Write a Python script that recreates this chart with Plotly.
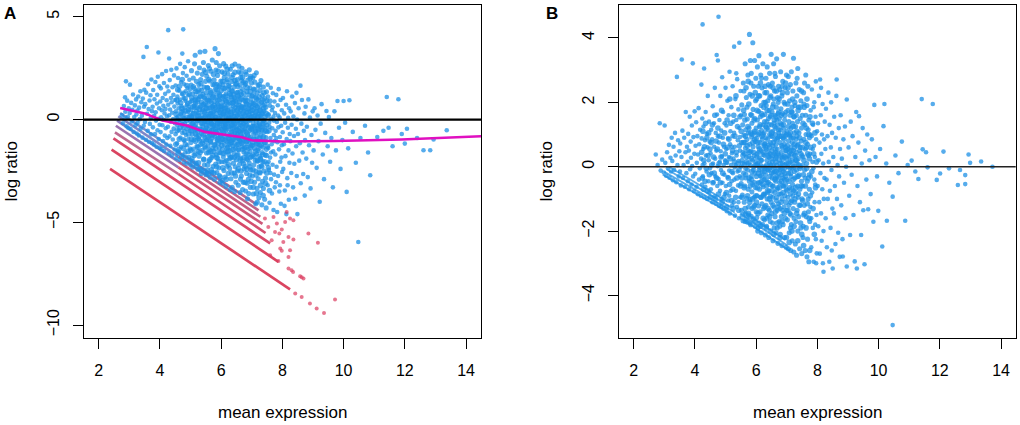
import plotly.graph_objects as go

# ---------------- Panel A data (mean expression, log ratio) ----------------
a_left = [
(2.76,0.21),(2.79,-0.18),(2.82,0.66),(2.84,0.05),(2.87,0.38),(2.89,1.86),(2.91,-0.33),(2.93,0.92),(2.95,0.14),(2.97,-0.41),(2.98,0.55),(2.86,1.08),
(3.01,0.32),(3.02,1.7),(3.04,-0.46),(3.06,0.81),(3.08,-0.09),(3.1,0.47),(3.12,1.22),(3.14,-0.6),(3.16,0.12),(3.18,0.69),(3.2,-0.28),(3.22,0.98),(3.23,0.25),(3.24,-0.68),
(3.26,0.44),(3.27,-0.15),(3.29,1.12),(3.31,-0.77),(3.32,0.58),(3.34,0.02),(3.36,1.38),(3.37,-0.45),(3.39,0.84),(3.41,0.19),(3.43,-0.88),(3.44,1.02),(3.46,3.05),(3.47,-0.3),(3.48,0.62),(3.49,1.45),
(3.51,-0.12),(3.52,0.75),(3.54,-0.98),(3.55,1.31),(3.57,3.53),(3.58,0.28),(3.6,-0.55),(3.61,1.72),(3.63,0.51),(3.64,-1.08),(3.66,0.93),(3.67,-0.21),(3.69,1.18),(3.7,0.07),(3.71,-0.72),(3.72,1.95),(3.74,0.41),(3.74,-1.14),
(3.76,0.62),(3.77,-0.38),(3.78,1.44),(3.8,-1.21),(3.81,0.18),(3.82,0.99),(3.84,-0.7),(3.85,1.83),(3.86,0.35),(3.87,-0.05),(3.89,-1.32),(3.9,0.78),(3.91,1.21),(3.92,-0.52),(3.93,2.08),(3.95,3.26),(3.95,0.04),(3.96,-0.95),(3.97,0.55),(3.98,1.62),(3.99,-0.25),(3.99,-1.38),
(4.01,0.88),(4.02,-0.61),(4.03,1.52),(4.04,0.11),(4.05,-1.44),(4.06,0.45),(4.07,2.21),(4.08,-0.28),(4.09,1.05),(4.1,-1.05),(4.11,0.67),(4.12,-0.01),(4.13,1.78),(4.14,-1.53),(4.15,0.3),(4.16,-0.78),(4.17,1.25),(4.18,0.52),(4.19,-0.42),(4.2,2.36),(4.21,-1.22),(4.22,0.94),(4.23,0.16),(4.24,-0.9),(4.24,1.61),
(4.26,-0.35),(4.27,4.35),(4.27,0.72),(4.28,1.38),(4.29,-1.64),(4.3,2.97),(4.3,0.21),(4.31,-0.82),(4.32,1.92),(4.33,0.49),(4.34,-1.28),(4.35,-0.11),(4.36,1.05),(4.37,2.42),(4.38,-0.6),(4.38,0.84),(4.39,-1.75),(4.4,0.33),(4.41,1.57),(4.42,-0.97),(4.43,0.02),(4.44,1.21),(4.45,-0.44),(4.46,2.15),(4.47,0.63),(4.48,-1.46),(4.49,-0.18),(4.49,0.95),
(4.51,1.66),(4.51,-0.71),(4.52,0.4),(4.53,-1.88),(4.54,2.49),(4.55,0.09),(4.56,-1.16),(4.57,1.12),(4.57,-0.3),(4.58,0.78),(4.59,2.02),(4.6,-1.55),(4.61,0.55),(4.62,-0.52),(4.63,1.41),(4.64,-0.02),(4.65,-1.97),(4.65,0.97),(4.66,2.71),(4.67,-0.88),(4.68,0.26),(4.69,1.83),(4.69,-1.33),(4.7,0.66),(4.71,-0.15),(4.72,1.24),(4.73,3.21),(4.73,-0.65),(4.74,0.44),(4.74,-1.72),(4.75,2.26),(4.75,0.12),
(4.76,4.39),(4.76,-0.42),(4.77,1.05),(4.78,-2.09),(4.78,0.31),(4.79,1.72),(4.8,-1.02),(4.81,0.58),(4.81,2.55),(4.82,-0.18),(4.83,-1.6),(4.84,0.9),(4.84,1.38),(4.85,-0.75),(4.86,0.14),(4.87,2.13),(4.87,-2.15),(4.88,0.72),(4.89,-1.25),(4.9,1.55),(4.9,-0.33),(4.91,0.38),(4.92,2.84),(4.93,-0.95),(4.93,1.18),(4.94,0.01),(4.95,-1.82),(4.95,0.63),(4.96,1.94),(4.97,-0.55),(4.97,0.22),(4.98,-1.41),(4.98,1.47),(4.99,-0.08),(4.99,0.85),(5.0,-2.22),
]
a_core = [
(5.01,0.47),(5.01,-1.12),(5.02,1.68),(5.03,-0.37),(5.03,2.38),(5.04,0.1),(5.05,-1.88),(5.05,0.93),(5.06,-0.7),(5.07,1.25),(5.07,-2.31),(5.08,0.29),(5.09,-1.44),(5.09,2.02),(5.1,-0.14),(5.11,0.68),(5.11,-0.98),(5.12,1.51),(5.13,-0.5),(5.13,2.71),(5.14,0.05),(5.15,3.13),(5.15,-1.67),(5.16,0.82),(5.17,-0.25),(5.17,1.08),(5.18,-2.12),(5.19,0.4),(5.19,1.86),(5.2,-0.83),(5.21,0.17),(5.21,-1.3),(5.22,2.26),(5.22,0.59),(5.23,-0.6),(5.23,1.34),(5.24,-2.42),(5.24,-0.04),(5.25,0.98),(5.25,-1.55),
(5.26,0.33),(5.26,-0.92),(5.27,1.71),(5.28,-1.78),(5.28,0.02),(5.29,2.52),(5.3,-0.45),(5.3,1.1),(5.31,3.29),(5.31,-2.38),(5.32,0.62),(5.33,-1.21),(5.33,1.95),(5.34,-0.18),(5.35,0.85),(5.35,-2.62),(5.36,1.42),(5.36,-0.68),(5.37,0.19),(5.38,2.2),(5.38,-1.5),(5.39,0.48),(5.4,-0.33),(5.4,1.23),(5.41,-1.03),(5.42,2.78),(5.42,0.07),(5.43,-1.92),(5.43,0.74),(5.44,1.58),(5.45,-0.55),(5.45,-2.21),(5.46,0.36),(5.46,1.04),(5.47,3.32),(5.47,-0.85),(5.48,0.15),(5.48,-1.38),(5.49,1.86),(5.49,-0.1),(5.5,0.58),(5.5,-2.68),(5.29,-1.01),(5.44,2.41),
(5.51,-0.4),(5.51,1.32),(5.52,-1.63),(5.52,0.24),(5.53,2.11),(5.54,-0.97),(5.54,0.7),(5.55,-2.45),(5.55,-0.12),(5.56,1.55),(5.57,-1.29),(5.57,0.43),(5.58,2.63),(5.58,-0.63),(5.59,0.95),(5.6,-2.02),(5.6,-0.27),(5.61,1.18),(5.61,0.08),(5.62,-1.48),(5.63,1.88),(5.63,-0.78),(5.64,0.56),(5.64,-2.81),(5.65,-0.05),(5.65,1.41),(5.66,-1.12),(5.67,0.31),(5.67,2.35),(5.68,-0.52),(5.68,0.82),(5.69,-1.85),(5.69,-0.2),(5.7,1.05),(5.7,-0.91),(5.71,0.19),(5.71,2.9),(5.72,-1.39),(5.72,0.63),(5.73,-0.35),(5.73,1.7),(5.74,-2.27),(5.74,0.02),(5.75,-0.7),(5.75,1.25),(5.53,-2.6),(5.62,2.48),(5.7,-2.55),
(5.76,0.41),(5.76,-1.55),(5.77,-0.28),(5.77,1.93),(5.78,0.88),(5.78,-2.9),(5.79,-0.81),(5.79,0.13),(5.8,3.45),(5.8,-1.2),(5.81,1.47),(5.81,-0.46),(5.82,0.6),(5.82,-2.16),(5.83,2.41),(5.83,-0.02),(5.84,-1.71),(5.84,1.08),(5.85,-0.66),(5.85,0.29),(5.86,-2.58),(5.86,1.72),(5.87,-0.14),(5.87,-1.03),(5.88,0.77),(5.88,2.15),(5.89,-0.39),(5.89,-1.89),(5.9,0.45),(5.9,1.3),(5.91,3.21),(5.91,-0.9),(5.92,0.06),(5.92,-2.35),(5.93,1.59),(5.93,-0.55),(5.94,0.95),(5.94,-1.37),(5.95,-0.2),(5.95,2.62),(5.96,0.34),(5.96,-3.05),(5.97,-0.74),(5.97,1.16),(5.98,-1.62),(5.98,0.62),(5.99,-0.09),(5.99,1.88),(6.0,-1.08),(6.0,0.22),(5.84,2.78),(5.94,-2.72),
(6.01,-0.47),(6.01,1.41),(6.02,-2.05),(6.02,0.51),(6.03,-0.97),(6.03,2.32),(6.04,0.03),(6.04,-1.44),(6.05,0.86),(6.05,-3.1),(6.06,-0.31),(6.06,1.7),(6.07,-1.81),(6.07,0.27),(6.08,-0.64),(6.08,1.12),(6.09,-2.48),(6.09,0.68),(6.1,-0.12),(6.1,2.05),(6.11,-1.22),(6.11,0.41),(6.12,-0.82),(6.12,1.53),(6.13,-2.8),(6.13,-0.25),(6.14,0.92),(6.14,-1.58),(6.15,0.14),(6.15,2.6),(6.16,-0.5),(6.16,1.25),(6.17,-1.99),(6.17,0.57),(6.18,-1.05),(6.18,-0.03),(6.19,1.84),(6.19,-2.27),(6.2,0.33),(6.2,-0.71),(6.21,1.0),(6.21,-1.35),(6.22,-0.18),(6.22,2.21),(6.23,0.75),(6.23,-2.62),(6.24,-0.93),(6.24,0.09),(6.25,1.46),(6.25,-1.7),(6.03,-2.95),(6.08,2.72),(6.16,-3.25),(6.2,1.95),(6.12,-0.42),
(6.26,0.38),(6.26,-1.17),(6.27,-0.35),(6.27,1.62),(6.28,-2.38),(6.28,0.81),(6.29,-0.78),(6.29,0.1),(6.3,2.45),(6.3,-1.5),(6.31,-0.08),(6.31,1.19),(6.32,-2.88),(6.32,0.52),(6.33,-1.02),(6.33,-0.3),(6.34,1.85),(6.34,0.23),(6.35,-1.82),(6.35,-0.58),(6.36,0.96),(6.36,-3.3),(6.37,0.01),(6.37,1.38),(6.38,-1.28),(6.38,-0.44),(6.39,0.67),(6.39,2.18),(6.4,-2.12),(6.4,-0.15),(6.41,0.44),(6.41,-0.95),(6.42,1.58),(6.42,-1.63),(6.43,0.17),(6.43,-2.6),(6.44,-0.66),(6.44,1.07),(6.45,2.7),(6.45,-0.22),(6.46,0.59),(6.46,-1.4),(6.47,-0.88),(6.47,1.73),(6.48,0.04),(6.48,-3.05),(6.49,-0.5),(6.49,0.89),(6.5,-1.95),(6.5,1.3),(6.3,-3.4),(6.36,2.62),(6.44,-3.5),(6.27,-1.92),(6.33,1.1),(6.4,0.85),(6.46,-2.3),(6.38,-0.98),
(6.51,-0.32),(6.51,0.72),(6.52,-1.22),(6.52,1.95),(6.53,-2.5),(6.53,0.21),(6.54,-0.71),(6.54,1.33),(6.55,-1.7),(6.55,-0.05),(6.56,0.55),(6.56,-3.2),(6.57,2.32),(6.57,-0.94),(6.58,0.35),(6.58,-1.48),(6.59,1.1),(6.59,-0.4),(6.6,-2.18),(6.6,0.88),(6.61,-0.15),(6.61,1.68),(6.62,-1.05),(6.62,-3.55),(6.63,0.48),(6.63,-0.62),(6.64,2.05),(6.64,-1.87),(6.65,0.12),(6.65,-0.28),(6.66,1.22),(6.66,-2.75),(6.67,-0.85),(6.67,0.66),(6.68,-1.32),(6.68,2.5),(6.69,0.02),(6.69,-0.52),(6.7,1.48),(6.7,-2.02),(6.71,0.3),(6.71,-1.1),(6.72,-3.05),(6.72,0.95),(6.73,-0.2),(6.73,1.82),(6.74,-1.58),(6.74,0.42),(6.75,-0.78),(6.75,-2.4),(6.58,2.6),(6.63,-2.9),(6.7,-3.4),(6.55,1.6),(6.67,1.9),(6.6,-1.0),(6.74,-0.05),(6.53,-0.5),
(6.76,0.58),(6.76,-1.38),(6.77,-0.45),(6.77,1.7),(6.78,-2.28),(6.78,0.17),(6.79,-0.92),(6.79,1.04),(6.8,-3.48),(6.8,-0.1),(6.81,0.77),(6.81,-1.66),(6.82,2.2),(6.82,-0.6),(6.83,0.36),(6.83,-2.62),(6.84,-1.18),(6.84,1.37),(6.85,-0.25),(6.85,0.92),(6.86,-1.95),(6.86,-3.85),(6.87,0.09),(6.87,1.92),(6.88,-0.78),(6.88,-1.43),(6.89,0.51),(6.89,-2.9),(6.9,-0.38),(6.9,1.21),(6.91,-1.04),(6.91,0.23),(6.92,2.42),(6.92,-2.12),(6.93,-0.55),(6.93,0.71),(6.94,-1.57),(6.94,1.55),(6.95,-0.02),(6.95,-3.3),(6.96,0.4),(6.96,-0.88),(6.97,1.0),(6.97,-2.45),(6.98,-1.25),(6.98,0.15),(6.99,1.78),(6.99,-0.35),(7.0,-1.8),(7.0,0.62),(6.8,2.32),(6.85,-3.1),(6.9,-3.6),(6.96,2.1),(6.83,-1.9),(6.94,-2.7),
(7.01,-0.48),(7.01,1.15),(7.02,-2.75),(7.02,0.3),(7.03,-1.13),(7.03,2.02),(7.04,-0.15),(7.04,-1.72),(7.05,0.82),(7.05,-3.62),(7.06,-0.7),(7.06,1.48),(7.07,-2.2),(7.07,0.05),(7.08,-1.4),(7.08,0.55),(7.09,-0.32),(7.09,-3.05),(7.1,1.82),(7.1,-0.95),(7.11,0.2),(7.11,-1.98),(7.12,1.08),(7.12,-0.55),(7.13,-4.1),(7.13,-2.5),(7.14,0.68),(7.14,-1.2),(7.15,-0.08),(7.15,2.28),(7.16,-1.65),(7.16,0.4),(7.17,-0.82),(7.17,-3.35),(7.18,1.3),(7.18,-2.02),(7.19,0.12),(7.19,-0.42),(7.2,-1.5),(7.2,0.95),(7.21,-2.88),(7.21,1.65),(7.22,-0.6),(7.22,-1.05),(7.23,0.28),(7.23,-3.8),(7.24,-2.3),(7.24,0.75),(7.25,-0.25),(7.25,-1.78),(7.08,2.15),(7.18,-4.02),
(7.26,0.52),(7.26,-1.25),(7.27,-2.6),(7.27,1.42),(7.28,-0.35),(7.28,-3.55),(7.29,0.18),(7.29,-1.88),(7.3,-0.78),(7.3,1.9),(7.31,-2.25),(7.31,0.05),(7.32,-1.02),(7.32,0.85),(7.33,-4.15),(7.33,-0.52),(7.34,1.18),(7.34,-1.6),(7.35,-3.0),(7.35,0.3),(7.36,-0.2),(7.36,-2.05),(7.37,0.7),(7.37,-1.35),(7.38,1.58),(7.38,-3.35),(7.39,-0.62),(7.39,-0.05),(7.4,-2.5),(7.4,0.42),(7.41,-1.12),(7.42,-3.88),(7.42,1.02),(7.43,-0.4),(7.44,-1.72),(7.44,0.15),(7.45,-2.85),(7.46,-0.88),(7.46,0.6),(7.47,-4.3),(7.48,-1.45),(7.48,1.35),(7.49,-0.28),(7.5,-2.15),(7.5,0.92),
]
a_dense = [
(4.52,-1.2),(4.55,0.95),(4.57,-0.05),(4.58,1.45),(4.53,0.25),(4.59,-1.62),(4.56,-0.55),
(4.61,0.12),(4.63,-0.95),(4.64,1.62),(4.66,-0.4),(4.68,0.82),(4.62,-1.45),(4.69,0.35),
(4.71,-1.8),(4.72,0.55),(4.74,-0.25),(4.76,1.28),(4.78,-0.98),(4.79,0.05),(4.73,1.95),(4.77,-1.4),
(4.81,-0.6),(4.82,1.02),(4.84,-1.85),(4.85,0.42),(4.87,-0.05),(4.88,1.65),(4.83,-1.2),(4.89,-0.45),
(4.91,0.78),(4.92,-1.55),(4.94,-0.7),(4.95,1.25),(4.97,0.1),(4.98,-2.0),(4.93,0.48),(4.99,-0.3),
(5.01,-1.5),(5.02,0.15),(5.04,1.05),(5.05,-0.55),(5.07,-2.05),(5.08,0.62),(5.03,-0.95),(5.09,1.6),(5.06,-0.2),
(5.11,0.3),(5.12,-1.75),(5.13,-0.35),(5.15,0.95),(5.16,-1.05),(5.18,1.35),(5.19,-2.25),(5.14,0.6),(5.17,-0.7),
(5.21,-0.45),(5.22,0.85),(5.24,-1.35),(5.25,0.2),(5.26,-2.1),(5.27,1.45),(5.28,-0.8),(5.23,-0.05),(5.29,0.5),
(5.31,-1.6),(5.32,0.05),(5.33,1.15),(5.35,-0.5),(5.36,-2.45),(5.37,0.7),(5.38,-1.15),(5.34,1.75),(5.39,-0.2),
(5.41,0.4),(5.42,-0.75),(5.43,-1.95),(5.45,1.1),(5.46,-0.1),(5.47,-1.3),(5.48,0.8),(5.44,-2.5),(5.49,-0.55),
(5.51,-1.05),(5.52,0.55),(5.53,-0.3),(5.54,1.55),(5.56,-2.2),(5.57,-0.85),(5.58,0.15),(5.59,-1.6),(5.55,0.95),(5.58,-2.65),
(5.61,-0.5),(5.62,0.9),(5.63,-1.95),(5.64,0.25),(5.65,-1.05),(5.66,1.3),(5.67,-0.15),(5.68,-2.45),(5.69,0.6),(5.66,-1.55),
(5.71,-0.75),(5.72,0.35),(5.73,-1.75),(5.74,1.1),(5.75,-0.25),(5.76,-2.6),(5.77,0.7),(5.78,-1.25),(5.79,1.7),(5.74,-0.5),
(5.81,0.1),(5.82,-1.4),(5.83,-0.6),(5.84,0.5),(5.85,-2.3),(5.86,1.45),(5.87,-0.95),(5.88,-0.2),(5.89,0.95),(5.85,-1.85),
(5.91,-1.15),(5.92,0.7),(5.93,-2.05),(5.94,-0.35),(5.95,1.2),(5.96,0.15),(5.97,-2.8),(5.98,-0.8),(5.99,0.45),(5.93,-1.6),
(6.01,0.65),(6.02,-1.25),(6.03,-0.1),(6.04,1.05),(6.05,-2.35),(6.06,-0.55),(6.07,0.3),(6.08,-1.65),(6.09,1.5),(6.05,-0.95),
(6.11,-0.35),(6.12,-2.05),(6.13,0.55),(6.14,-1.0),(6.15,1.15),(6.16,-0.2),(6.17,-2.9),(6.18,0.85),(6.19,-1.4),(6.16,0.2),
(6.21,0.45),(6.22,-1.55),(6.23,-0.45),(6.24,1.65),(6.25,-2.2),(6.26,0.05),(6.27,-0.9),(6.28,1.25),(6.29,-1.2),(6.24,-0.05),
(6.31,-1.85),(6.32,0.3),(6.33,-0.65),(6.34,1.4),(6.35,-2.6),(6.36,-0.25),(6.37,0.8),(6.38,-1.45),(6.39,-0.05),(6.33,-1.1),
(6.41,1.2),(6.42,-0.4),(6.43,-1.85),(6.44,0.35),(6.45,-1.15),(6.46,0.95),(6.47,-2.75),(6.48,-0.7),(6.49,0.15),(6.45,1.9),
(6.51,-1.75),(6.52,0.45),(6.53,-0.9),(6.54,-0.1),(6.55,1.15),(6.56,-2.4),(6.57,-1.2),(6.58,0.7),(6.59,-0.55),(6.55,-1.45),
(6.61,0.25),(6.62,-1.95),(6.63,1.35),(6.64,-0.75),(6.65,-2.5),(6.66,0.6),(6.67,-1.15),(6.68,0.0),(6.69,-0.3),(6.64,1.0),
(6.71,-1.45),(6.72,0.55),(6.73,-2.15),(6.74,1.25),(6.75,-0.55),(6.76,-1.0),(6.77,0.2),(6.78,-3.05),(6.79,0.9),(6.75,-1.85),
(6.81,-0.3),(6.82,-1.35),(6.83,0.75),(6.84,-2.4),(6.85,1.55),(6.86,-0.7),(6.87,0.35),(6.88,-1.7),(6.89,-0.05),(6.84,-1.05),
(6.91,0.55),(6.92,-0.95),(6.93,-2.3),(6.94,0.1),(6.95,1.35),(6.96,-1.35),(6.97,-0.45),(6.98,-3.0),(6.99,0.8),(6.95,-1.85),
(7.01,-1.25),(7.02,0.45),(7.03,-0.35),(7.04,-2.45),(7.05,1.2),(7.06,-0.95),(7.07,0.15),(7.08,-1.8),(7.09,0.75),(7.05,-3.3),
(7.11,-0.6),(7.12,-1.55),(7.13,0.35),(7.14,-2.7),(7.15,1.0),(7.16,-0.3),(7.17,-1.15),(7.18,0.6),(7.19,-2.0),(7.15,-3.6),
(7.21,0.15),(7.22,-1.4),(7.23,-0.5),(7.24,1.1),(7.25,-2.55),(7.26,-0.9),(7.27,0.45),(7.28,-1.95),(7.29,-3.2),(7.25,-0.15),
(7.31,-1.25),(7.32,0.3),(7.33,-2.3),(7.34,-0.4),(7.35,0.95),(7.36,-1.7),(7.37,-3.7),(7.38,-0.85),(7.39,0.55),
(7.41,-0.15),(7.42,-2.05),(7.43,0.75),(7.44,-1.1),(7.45,-3.1),(7.46,-0.55),(7.47,0.3),(7.48,-1.75),(7.49,-2.6),
(7.51,-1.3),(7.53,0.2),(7.54,-2.35),(7.56,-0.55),(7.58,-3.45),(7.59,0.9),
(5.6,1.95),(5.75,2.2),(5.9,2.35),(6.05,1.85),(6.2,2.45),(6.35,2.05),(6.5,1.75),(6.65,2.25),(6.8,1.75),(6.95,2.0),(7.1,1.45),(7.25,1.7),(7.4,1.3),(5.5,2.3),(6.45,2.3),(6.1,2.25),(5.95,1.65),(6.7,2.05),
]
a_right = [
(7.51,-0.6),(7.52,-3.2),(7.53,1.12),(7.54,-1.38),(7.55,0.25),(7.56,-2.45),(7.57,-0.15),(7.58,-4.05),(7.59,0.68),(7.6,-1.85),(7.61,-0.9),(7.62,1.55),(7.63,-2.9),(7.64,0.02),(7.65,-1.2),(7.66,-3.6),(7.66,0.45),(7.67,-0.42),(7.68,-2.2),(7.69,1.28),(7.7,-1.55),(7.71,-4.4),(7.71,0.15),(7.72,-0.75),(7.73,-2.68),(7.74,0.88),(7.74,-1.05),(7.75,-3.3),(7.52,1.7),(7.58,-0.35),(7.63,-1.6),(7.68,0.6),(7.55,-2.05),(7.72,-0.05),(7.61,-2.6),
(7.76,0.32),(7.77,-1.7),(7.78,-0.55),(7.79,-3.05),(7.8,1.2),(7.81,-2.3),(7.82,-0.12),(7.83,-4.5),(7.84,-1.1),(7.85,0.7),(7.86,-2.75),(7.87,-0.38),(7.88,1.48),(7.89,-1.45),(7.9,-3.5),(7.91,0.1),(7.92,-0.85),(7.93,-2.05),(7.94,0.95),(7.95,-4.1),(7.96,-0.3),(7.97,-1.85),(7.98,0.45),(7.99,-2.55),(7.8,-0.9),(7.86,0.2),(7.92,-3.2),(7.98,-1.25),
(8.01,-0.62),(8.02,1.05),(8.03,-2.4),(8.05,-1.2),(8.06,0.3),(8.08,-3.45),(8.09,-0.15),(8.1,-1.78),(8.12,0.72),(8.13,-4.6),(8.14,-0.95),(8.15,1.38),(8.16,-2.85),(8.18,-0.4),(8.19,0.08),(8.2,-1.5),(8.21,-3.9),(8.22,0.55),(8.23,-2.1),(8.24,-0.7),(8.07,-4.2),(8.17,-3.2),
(8.26,-1.05),(8.27,0.4),(8.29,-2.6),(8.3,-0.25),(8.32,1.12),(8.33,-1.65),(8.35,-3.3),(8.36,0.15),(8.38,-0.8),(8.39,-2.15),(8.41,0.8),(8.42,-3.85),(8.44,-0.45),(8.45,-1.3),(8.46,1.3),(8.47,-2.75),(8.48,0.0),(8.49,-4.6),
(8.51,-0.7),(8.53,0.55),(8.55,-2.0),(8.57,-1.15),(8.59,1.65),(8.6,-3.1),(8.62,-0.2),(8.64,0.95),(8.66,-1.6),(8.68,-2.65),(8.7,-0.55),(8.72,0.3),(8.73,-3.7),(8.74,-1.0),
(8.76,0.62),(8.78,-1.9),(8.8,-0.35),(8.83,-2.8),(8.85,0.98),(8.87,-1.25),(8.9,0.1),(8.92,-3.35),(8.95,-0.75),(8.97,-2.1),(8.99,0.4),
(9.02,-1.5),(9.05,0.55),(9.08,-0.5),(9.12,-2.35),(9.15,0.2),(9.18,-1.05),(9.22,-4.0),(9.25,-0.2),(9.28,0.75),(9.32,-1.7),(9.36,-2.9),(9.4,-0.65),(9.44,0.42),(9.48,-1.3),
(9.52,0.12),(9.56,-2.05),(9.6,-0.9),(9.65,-3.3),(9.7,0.4),(9.75,-1.5),(9.8,0.9),(9.85,-0.4),(9.9,-2.4),(9.96,-1.0),
(10.0,0.9),(10.05,-0.15),(10.1,-3.52),(10.15,-1.4),(10.19,0.94),(10.3,-0.6),(10.4,-2.1),(10.48,-5.96),(10.55,-0.9),(10.7,-0.3),(10.8,-1.6),(10.87,-2.71),
(11.1,-0.85),(11.3,-0.55),(11.41,1.1),(11.47,-0.4),(11.6,-1.3),(11.79,0.99),(11.9,-0.7),(12.0,-1.17),(12.07,-0.45),(12.4,-0.9),(12.61,-1.49),(12.83,-1.49),(12.94,-0.97),(13.37,-0.52),
]
a_red = [
(7.43,-4.82),(7.54,-5.23),(7.65,-5.87),(7.71,-4.74),(7.76,-5.47),(7.82,-5.06),(7.9,-5.55),(7.93,-6.28),(7.98,-5.35),(7.98,-6.39),(8.03,-5.96),(8.09,-4.98),
(8.14,-4.5),(8.2,-5.71),(8.2,-6.69),(8.2,-7.25),(8.25,-4.82),(8.25,-6.36),(8.3,-7.33),(8.35,-7.42),(8.36,-4.9),(8.36,-5.84),(8.42,-8.47),(8.58,-7.63),
(8.63,-7.67),(8.63,-8.63),(8.69,-7.74),(8.85,-5.55),(8.9,-8.95),(9.12,-9.2),(9.16,-6.0),(9.36,-9.41),(9.72,-8.76),(7.6,-6.6),(7.87,-6.88),
]
# low-count stripes of panel A: start, colour-change and end points
stripe_x = [[2.37, 8.25], [2.42, 7.87], [2.48, 7.60], [2.53, 4.6, 7.45], [2.56, 4.6, 7.35],
            [2.60, 4.6, 7.28], [2.64, 4.6, 7.22], [2.70, 4.6, 7.15]]
stripe_y = [[-2.40, -8.26], [-1.46, -6.92], [-0.92, -6.03], [-0.62, -2.65, -5.52], [-0.30, -2.33, -5.08],
            [-0.05, -2.05, -4.73], [0.16, -1.80, -4.42], [0.32, -1.58, -4.13]]
stripe_col_left = ["#d7304f", "#d7304f", "#d3365a", "#b65a86", "#9264a8", "#7e6fb8", "#7179c2", "#6a84ca"]
stripe_col_right = ["#d7304f", "#d7304f", "#d3365a", "#cf3c60", "#c8456a", "#be4c74", "#b4547e", "#aa5b88"]
loess_x = [2.7, 3.5, 4.06, 4.9, 5.47, 6.3, 6.67, 7.0, 8.0, 9.7, 11.9, 14.5]
loess_y = [0.56, 0.3, -0.03, -0.3, -0.6, -0.78, -0.86, -1.01, -1.07, -1.04, -0.97, -0.81]

# ---------------- Panel B data ----------------
b_left = [
(2.72,0.38),(2.78,0.05),(2.85,1.35),(2.88,-0.12),(2.93,0.22),(2.98,-0.18),
(3.01,1.28),(3.03,0.12),(3.06,-0.28),(3.09,0.45),(3.12,-0.05),(3.15,0.68),(3.17,-0.34),(3.2,0.28),(3.22,-0.15),(3.24,0.9),
(3.26,0.18),(3.28,-0.42),(3.3,0.62),(3.32,-0.1),(3.35,1.05),(3.37,0.35),(3.39,-0.48),(3.41,2.79),(3.43,0.05),(3.45,0.82),(3.47,-0.3),(3.49,0.48),
(3.51,-0.15),(3.52,0.72),(3.54,-0.58),(3.56,0.3),(3.57,3.33),(3.59,1.12),(3.61,-0.35),(3.63,0.05),(3.65,0.9),(3.67,-0.62),(3.69,0.45),(3.7,1.7),(3.72,-0.2),(3.74,0.62),
(3.76,0.15),(3.77,-0.45),(3.78,1.02),(3.8,0.5),(3.81,-0.7),(3.83,1.55),(3.84,-0.08),(3.86,0.78),(3.87,0.28),(3.89,-0.55),(3.9,1.28),(3.91,0.02),(3.93,3.21),(3.94,-0.3),(3.95,0.92),(3.97,-0.76),(3.98,0.4),(3.99,1.72),
(4.01,-0.22),(4.02,0.65),(4.04,1.38),(4.05,-0.62),(4.06,0.12),(4.08,0.95),(4.09,-0.85),(4.1,0.38),(4.12,1.82),(4.13,-0.4),(4.14,0.7),(4.16,-0.05),(4.17,1.15),(4.19,-0.9),(4.2,0.25),(4.21,2.55),(4.22,0.88),(4.23,-0.55),(4.24,1.5),(4.25,0.05),
(4.25,4.42),(4.26,-0.3),(4.27,0.55),(4.28,1.25),(4.3,3.05),(4.3,-0.95),(4.31,0.1),(4.33,0.82),(4.34,-0.62),(4.35,1.7),(4.36,0.35),(4.38,-0.15),(4.39,1.02),(4.4,-1.0),(4.41,0.6),(4.42,2.2),(4.44,-0.45),(4.45,0.2),(4.46,1.4),(4.47,-0.8),(4.48,0.78),(4.49,-0.05),
(4.51,0.42),(4.52,-0.7),(4.53,1.15),(4.54,-0.2),(4.56,0.85),(4.57,-1.1),(4.58,1.88),(4.59,0.1),(4.6,-0.48),(4.62,1.35),(4.63,0.62),(4.64,-0.92),(4.65,2.45),(4.66,0.25),(4.67,-0.3),(4.68,1.05),(4.69,-1.15),(4.7,0.5),(4.71,3.47),(4.72,1.62),(4.73,-0.6),(4.74,0.02),(4.75,3.3),(4.75,0.95),
(4.77,4.66),(4.77,-0.38),(4.78,0.75),(4.79,-1.22),(4.8,1.45),(4.81,0.15),(4.82,-0.75),(4.83,2.2),(4.84,0.48),(4.85,-0.1),(4.86,1.12),(4.87,-1.0),(4.88,0.32),(4.89,2.78),(4.9,-0.5),(4.91,0.9),(4.92,1.7),(4.93,-1.3),(4.94,0.05),(4.95,0.62),(4.96,-0.25),(4.97,1.35),(4.98,-0.85),(4.99,0.2),(5.0,2.45),(4.86,-1.25),
(5.01,-0.6),(5.02,0.55),(5.03,1.28),(5.04,-1.38),(5.05,0.12),(5.06,2.05),(5.07,-0.32),(5.08,0.88),(5.09,-1.05),(5.1,1.6),(5.11,0.3),(5.12,-0.12),(5.13,2.95),(5.14,-1.45),(5.15,0.7),(5.16,1.1),(5.17,-0.75),(5.18,0.05),(5.19,1.85),(5.2,-0.45),(5.21,0.42),(5.22,-1.2),(5.23,2.5),(5.23,0.95),(5.24,-0.2),(5.25,1.4),(5.12,-0.9),(5.2,0.62),
(5.26,0.25),(5.27,-1.1),(5.28,3.73),(5.28,1.05),(5.29,-0.4),(5.3,0.62),(5.31,-1.52),(5.32,2.1),(5.33,0.05),(5.34,-0.75),(5.35,1.45),(5.36,0.35),(5.37,-1.25),(5.38,2.72),(5.39,-0.15),(5.4,0.82),(5.41,-0.58),(5.42,1.78),(5.43,0.18),(5.44,-1.6),(5.45,3.85),(5.45,1.2),(5.46,-0.3),(5.47,0.5),(5.48,-0.95),(5.49,2.35),(5.5,0.0),(5.5,1.6),(5.3,-0.02),(5.35,2.9),(5.42,-1.1),(5.47,0.92),
]
b_core = [
(5.51,-0.52),(5.52,0.75),(5.52,-1.35),(5.53,1.92),(5.54,0.2),(5.55,-0.88),(5.56,1.3),(5.57,-1.68),(5.57,0.45),(5.58,2.6),(5.59,-0.2),(5.6,0.98),(5.61,-1.1),(5.62,1.62),(5.62,0.08),(5.63,-0.6),(5.64,3.2),(5.65,0.58),(5.65,-1.45),(5.66,1.15),(5.67,-0.35),(5.68,2.15),(5.68,0.3),(5.69,-0.98),(5.7,0.85),(5.71,-1.72),(5.71,1.48),(5.72,-0.1),(5.73,2.85),(5.73,0.5),(5.74,-0.7),(5.75,1.05),(5.75,-1.25),(5.6,2.35),(5.66,-0.05),(5.7,1.85),(5.55,0.1),(5.64,-1.7),
(5.76,0.32),(5.76,-1.5),(5.77,1.2),(5.78,4.11),(5.78,-0.45),(5.79,0.7),(5.8,2.25),(5.8,-1.02),(5.81,0.05),(5.82,1.62),(5.82,-1.8),(5.83,0.48),(5.84,-0.3),(5.84,2.9),(5.85,0.92),(5.86,-0.78),(5.86,1.35),(5.87,-1.3),(5.88,0.2),(5.89,3.85),(5.89,-0.55),(5.9,1.78),(5.9,0.62),(5.91,-1.62),(5.92,0.0),(5.92,2.5),(5.93,1.05),(5.94,-0.95),(5.94,0.35),(5.95,3.3),(5.96,-0.2),(5.96,1.5),(5.97,-1.85),(5.97,0.78),(5.98,2.05),(5.98,-0.65),(5.99,0.15),(6.0,1.2),(6.0,-1.4),(5.79,-1.75),(5.83,2.6),(5.87,1.0),(5.91,-0.1),(5.95,-1.2),(5.99,2.75),(5.81,3.3),
(6.01,-0.3),(6.01,0.88),(6.02,-1.58),(6.02,2.1),(6.03,0.4),(6.03,-0.9),(6.04,1.45),(6.04,3.1),(6.05,-2.0),(6.05,0.1),(6.06,1.0),(6.06,-0.5),(6.07,2.5),(6.07,0.62),(6.08,-1.22),(6.08,1.72),(6.09,-0.1),(6.09,3.45),(6.1,0.28),(6.1,-1.75),(6.11,1.25),(6.11,-0.7),(6.12,2.2),(6.12,0.75),(6.13,-0.28),(6.13,-1.4),(6.14,1.55),(6.14,0.05),(6.15,2.85),(6.15,-0.95),(6.16,0.5),(6.16,1.9),(6.17,-2.05),(6.17,-0.45),(6.18,1.12),(6.18,0.2),(6.19,2.45),(6.19,-1.15),(6.2,0.85),(6.2,-0.15),(6.21,1.6),(6.21,-1.8),(6.22,0.38),(6.22,3.2),(6.23,-0.62),(6.23,1.3),(6.24,-1.3),(6.24,0.0),(6.25,2.0),(6.25,0.65),(6.06,-1.9),(6.12,-0.02),(6.18,2.75),(6.24,-0.85),(6.08,0.45),
(6.26,-0.4),(6.26,1.05),(6.27,-1.65),(6.27,0.35),(6.28,2.3),(6.28,-0.85),(6.29,0.72),(6.29,1.62),(6.3,-2.12),(6.3,0.0),(6.31,1.25),(6.31,-0.25),(6.32,2.75),(6.32,-1.2),(6.33,0.55),(6.33,1.9),(6.34,-0.6),(6.34,-1.85),(6.35,0.2),(6.35,1.4),(6.36,3.1),(6.36,-1.0),(6.37,0.85),(6.37,-0.1),(6.38,2.05),(6.38,-1.5),(6.39,0.45),(6.39,1.15),(6.4,-0.48),(6.4,2.55),(6.41,-2.2),(6.41,0.68),(6.42,1.75),(6.42,-0.75),(6.43,0.1),(6.43,-1.35),(6.44,1.0),(6.44,2.9),(6.45,-0.3),(6.45,0.4),(6.46,-1.7),(6.46,1.55),(6.47,0.75),(6.47,-0.92),(6.48,2.2),(6.48,0.05),(6.49,3.49),(6.49,-1.1),(6.5,1.3),(6.5,-0.2),(6.28,-0.05),(6.32,0.9),(6.36,-0.5),(6.4,1.5),(6.44,-0.05),(6.48,0.95),(6.3,2.0),(6.35,-1.6),(6.42,0.3),(6.46,2.5),(6.27,1.4),(6.38,-0.8),
(6.51,0.5),(6.51,-1.45),(6.52,1.7),(6.52,-0.35),(6.53,2.6),(6.53,0.15),(6.54,-0.95),(6.54,1.1),(6.55,-2.3),(6.55,0.65),(6.56,1.95),(6.56,-0.6),(6.57,3.2),(6.57,0.02),(6.58,-1.25),(6.58,1.35),(6.59,0.4),(6.59,-1.9),(6.6,2.35),(6.6,-0.15),(6.61,0.85),(6.61,-0.8),(6.62,1.6),(6.62,-1.55),(6.63,0.25),(6.63,2.8),(6.64,-0.45),(6.64,1.2),(6.65,-2.05),(6.65,0.7),(6.66,1.85),(6.66,-1.05),(6.67,0.05),(6.67,3.35),(6.68,-0.3),(6.68,1.45),(6.69,-1.35),(6.69,0.55),(6.7,2.15),(6.7,-0.65),(6.71,0.9),(6.71,-2.38),(6.72,1.65),(6.72,-0.05),(6.73,2.5),(6.73,-1.15),(6.74,0.35),(6.74,1.05),(6.75,-0.85),(6.75,-1.7),(6.52,0.95),(6.56,-0.2),(6.6,1.25),(6.64,0.45),(6.68,-0.7),(6.72,2.0),(6.54,-1.75),(6.58,2.1),(6.62,-0.35),(6.66,0.3),(6.7,1.3),(6.74,-0.35),(6.53,-0.6),(6.61,2.9),(6.69,-1.9),(6.63,1.0),
(6.76,0.2),(6.76,1.5),(6.77,-0.5),(6.77,2.4),(6.78,-1.3),(6.78,0.75),(6.79,1.15),(6.79,-2.1),(6.8,0.0),(6.8,2.95),(6.81,-0.85),(6.81,1.8),(6.82,0.45),(6.82,-1.55),(6.83,1.3),(6.83,-0.25),(6.84,2.2),(6.84,-2.45),(6.85,0.6),(6.85,-1.0),(6.86,1.65),(6.86,0.1),(6.87,-0.6),(6.87,2.65),(6.88,0.9),(6.88,-1.8),(6.89,3.49),(6.89,-0.15),(6.9,1.2),(6.9,0.35),(6.91,-1.25),(6.91,2.0),(6.92,-0.4),(6.92,0.7),(6.93,-2.2),(6.93,1.45),(6.94,0.05),(6.94,-0.9),(6.95,2.45),(6.95,0.95),(6.96,-1.6),(6.96,-0.3),(6.97,1.7),(6.97,0.5),(6.98,-2.5),(6.98,1.0),(6.99,-0.7),(6.99,2.85),(7.0,0.25),(7.0,-1.35),(6.78,-0.1),(6.82,0.95),(6.86,-1.35),(6.9,-0.6),(6.94,1.95),(6.98,0.1),(6.8,1.35),(6.84,0.3),(6.88,-0.35),(6.92,1.05),(6.96,0.6),(6.77,-1.85),(6.85,2.5),(6.93,-0.05),
(7.01,1.1),(7.01,-0.4),(7.02,2.3),(7.02,-1.65),(7.03,0.55),(7.03,-0.95),(7.04,1.75),(7.04,0.0),(7.05,-2.55),(7.05,2.8),(7.06,0.8),(7.06,-0.2),(7.07,-1.2),(7.07,1.4),(7.08,0.3),(7.08,-2.05),(7.09,2.05),(7.09,-0.65),(7.1,0.95),(7.1,-1.45),(7.11,1.6),(7.11,0.15),(7.12,-0.85),(7.12,2.55),(7.13,-2.6),(7.13,0.6),(7.14,1.2),(7.14,-0.3),(7.15,-1.8),(7.15,2.95),(7.16,0.4),(7.16,-1.05),(7.17,1.85),(7.17,-0.05),(7.18,0.75),(7.18,-2.3),(7.19,1.35),(7.19,-0.55),(7.2,2.35),(7.2,0.05),(7.21,-1.3),(7.21,0.9),(7.22,3.37),(7.22,-0.75),(7.23,1.55),(7.23,-2.65),(7.24,0.35),(7.24,-1.6),(7.25,1.05),(7.25,-0.15),(7.05,0.35),(7.1,-0.05),(7.15,0.9),(7.2,-0.9),(7.08,1.0),(7.18,1.7),(7.12,-1.9),(7.22,0.5),
(7.26,0.6),(7.26,-1.1),(7.27,1.9),(7.27,-0.35),(7.28,-2.4),(7.28,0.2),(7.29,1.25),(7.29,-0.8),(7.3,2.6),(7.3,-1.7),(7.31,0.45),(7.31,1.6),(7.32,-0.1),(7.32,-2.75),(7.33,0.95),(7.33,2.2),(7.34,-1.35),(7.34,0.1),(7.35,1.4),(7.35,-0.6),(7.36,3.05),(7.36,-2.0),(7.37,0.7),(7.37,-0.95),(7.38,1.85),(7.38,0.25),(7.39,-1.55),(7.4,1.05),(7.4,-0.25),(7.41,2.4),(7.42,-2.55),(7.42,0.5),(7.43,-0.7),(7.44,1.5),(7.44,-1.2),(7.45,0.0),(7.46,2.05),(7.46,-1.9),(7.47,0.8),(7.48,-0.45),(7.48,1.2),(7.49,-2.7),(7.5,0.35),(7.5,-1.0),(7.3,0.85),(7.38,-0.3),(7.44,0.6),(7.34,2.75),
(7.51,1.6),(7.52,-0.6),(7.53,0.3),(7.54,-1.85),(7.55,2.3),(7.56,0.85),(7.57,-1.2),(7.58,-0.1),(7.59,1.3),(7.6,-2.6),(7.61,0.55),(7.62,2.85),(7.62,-0.85),(7.63,1.0),(7.64,-1.55),(7.65,0.1),(7.66,1.9),(7.67,-0.45),(7.68,-2.25),(7.68,0.7),(7.69,2.5),(7.7,-1.0),(7.71,0.35),(7.72,1.45),(7.72,-2.95),(7.73,-0.25),(7.74,0.9),(7.75,-1.7),(7.53,-2.2),(7.56,1.95),(7.6,-0.35),(7.64,0.6),(7.7,1.15),(7.74,-0.7),(7.58,2.6),(7.66,-2.8),(7.52,0.05),(7.62,1.6),(7.71,-1.4),(7.55,-1.5),
]
b_dense = [
(4.22,0.45),(4.24,-0.35),(4.26,1.1),(4.28,-0.7),(4.29,0.2),(4.31,0.62),(4.33,-0.45),(4.35,1.35),(4.37,-0.05),(4.39,0.9),
(4.41,-0.75),(4.43,0.35),(4.45,1.05),(4.47,-0.25),(4.49,0.55),(4.51,-0.95),(4.53,0.75),(4.55,0.05),(4.57,1.3),(4.59,-0.5),
(4.61,0.3),(4.63,-0.2),(4.65,1.6),(4.67,-1.0),(4.69,0.8),(4.71,-0.35),(4.73,0.55),(4.75,1.2),(4.77,-0.85),(4.79,0.1),
(4.81,0.95),(4.83,-0.5),(4.85,0.3),(4.87,1.75),(4.89,-1.1),(4.91,-0.2),(4.93,0.7),(4.95,-0.95),(4.97,1.05),(4.99,0.4),
(5.01,0.15),(5.03,-0.8),(5.05,1.45),(5.07,0.6),(5.09,-0.35),(5.04,-1.25),(5.11,0.85),(5.13,-0.55),(5.15,0.25),(5.17,1.35),(5.19,-1.05),(5.14,2.1),
(5.21,-0.15),(5.23,0.5),(5.25,-1.3),(5.27,1.6),(5.29,0.15),(5.24,-0.7),(5.31,0.95),(5.33,-0.95),(5.35,0.45),(5.37,-0.35),(5.39,1.25),(5.34,2.2),
(5.41,0.1),(5.43,-1.35),(5.45,0.65),(5.47,1.55),(5.49,-0.6),(5.44,-0.1),(5.51,1.1),(5.53,-0.35),(5.55,-1.5),(5.57,0.35),(5.59,1.75),(5.54,-0.95),(5.58,0.75),
(5.61,-0.65),(5.62,0.4),(5.63,1.45),(5.64,-1.3),(5.65,0.95),(5.66,-0.25),(5.67,2.45),(5.68,-1.6),(5.69,0.15),(5.63,0.75),
(5.71,0.65),(5.72,-0.9),(5.73,1.25),(5.74,0.1),(5.75,-1.45),(5.76,1.95),(5.77,-0.35),(5.78,0.45),(5.79,-1.1),(5.74,2.65),
(5.81,-0.6),(5.82,1.05),(5.83,-1.55),(5.84,0.25),(5.85,1.6),(5.86,-0.15),(5.87,2.2),(5.88,-1.0),(5.89,0.75),(5.85,-0.4),
(5.91,0.45),(5.92,-1.25),(5.93,1.45),(5.94,-0.5),(5.95,0.85),(5.96,-1.7),(5.97,2.3),(5.98,0.05),(5.99,-0.9),(5.95,1.1),
(6.01,-1.1),(6.02,0.3),(6.03,1.75),(6.04,-0.65),(6.05,0.75),(6.06,-1.45),(6.07,-0.2),(6.08,2.2),(6.09,1.05),(6.04,0.05),
(6.11,0.55),(6.12,-0.5),(6.13,1.3),(6.14,-1.85),(6.15,0.2),(6.16,-0.95),(6.17,1.65),(6.18,-0.3),(6.19,0.95),(6.14,2.6),
(6.21,-0.55),(6.22,1.0),(6.23,-1.6),(6.24,0.45),(6.25,1.85),(6.26,-0.15),(6.27,0.7),(6.28,-1.25),(6.29,2.5),(6.24,-0.9),
(6.31,0.6),(6.32,-0.4),(6.33,-1.9),(6.34,1.2),(6.35,0.05),(6.36,1.75),(6.37,-0.75),(6.38,0.35),(6.39,-1.3),(6.34,2.3),
(6.41,-0.1),(6.42,1.3),(6.43,-1.0),(6.44,0.6),(6.45,2.15),(6.46,-0.55),(6.47,-2.0),(6.48,1.6),(6.49,0.25),(6.44,-1.55),
(6.51,1.05),(6.52,-0.75),(6.53,0.35),(6.54,1.85),(6.55,-1.2),(6.56,0.75),(6.57,-0.05),(6.58,-2.1),(6.59,1.45),(6.55,2.45),
(6.61,-0.4),(6.62,0.55),(6.63,-1.4),(6.64,1.55),(6.65,-0.15),(6.66,2.35),(6.67,-0.95),(6.68,0.85),(6.69,-1.75),(6.64,0.15),
(6.71,0.4),(6.72,-1.25),(6.73,1.15),(6.74,-0.2),(6.75,2.1),(6.76,-0.65),(6.77,0.95),(6.78,-2.2),(6.79,0.1),(6.74,1.7),
(6.81,-1.1),(6.82,1.6),(6.83,-0.45),(6.84,0.65),(6.85,-1.7),(6.86,2.3),(6.87,0.25),(6.88,-0.8),(6.89,1.3),(6.84,-0.05),
(6.91,0.85),(6.92,-1.45),(6.93,0.3),(6.94,1.6),(6.95,-0.55),(6.96,2.6),(6.97,-1.1),(6.98,0.5),(6.99,-2.2),(6.94,-0.2),
(7.01,-0.75),(7.02,0.65),(7.03,1.95),(7.04,-1.35),(7.05,0.1),(7.06,1.25),(7.07,-0.45),(7.08,-2.35),(7.09,0.45),(7.04,2.45),
(7.11,1.05),(7.12,-0.2),(7.13,-1.1),(7.14,0.5),(7.15,1.7),(7.16,-0.7),(7.17,-2.0),(7.18,0.2),(7.19,2.1),(7.14,-1.5),
(7.21,-0.4),(7.22,1.25),(7.23,0.0),(7.24,-1.85),(7.25,0.7),(7.26,2.0),(7.27,-1.0),(7.28,0.35),(7.29,-0.65),(7.24,1.55),
(7.31,0.2),(7.32,-1.45),(7.33,1.1),(7.34,-0.3),(7.35,0.65),(7.36,-2.3),(7.37,1.75),(7.38,-0.85),(7.39,0.05),
(7.41,-1.2),(7.42,0.9),(7.43,-0.05),(7.44,1.85),(7.45,-1.75),(7.46,0.4),(7.47,-0.6),(7.48,2.35),(7.49,-2.1),
(7.51,0.6),(7.52,-1.05),(7.53,1.35),(7.54,-0.25),(7.55,-2.45),(7.56,0.2),(7.57,1.85),(7.58,-1.45),
(7.61,-0.6),(7.62,0.75),(7.63,-1.9),(7.64,1.2),(7.65,-0.05),(7.66,2.1),(7.67,-1.15),(7.68,0.4),
(7.71,-0.35),(7.72,1.0),(7.73,-1.6),(7.74,0.25),(7.75,-2.6),(7.76,1.55),(7.77,-0.9),(7.78,0.6),
(7.82,-0.15),(7.84,1.35),(7.86,-1.3),(7.88,0.4),(7.9,-2.1),(7.92,1.05),(7.94,-0.65),(7.97,0.15),
]
b_right = [
(7.76,0.4),(7.77,-1.25),(7.78,1.75),(7.79,-0.3),(7.8,-2.5),(7.81,0.95),(7.82,2.4),(7.83,-0.8),(7.84,0.15),(7.85,-1.9),(7.86,1.3),(7.87,-0.05),(7.88,-2.95),(7.89,0.65),(7.9,2.0),(7.91,-1.1),(7.92,0.3),(7.93,-0.55),(7.94,1.55),(7.95,-2.25),(7.96,0.85),(7.96,-3.0),(7.97,-1.5),(7.98,-2.69),(7.99,1.1),(7.8,-1.6),(7.85,0.55),(7.9,-0.4),(7.95,2.65),(7.78,1.0),(7.88,1.85),(7.93,-1.8),
(8.01,-0.6),(8.02,1.35),(8.03,-1.85),(8.04,0.2),(8.05,2.2),(8.06,-1.1),(8.07,0.75),(8.08,-2.7),(8.09,2.71),(8.1,-0.2),(8.11,1.6),(8.12,-1.45),(8.13,0.4),(8.14,-2.3),(8.15,1.0),(8.16,-0.7),(8.17,1.95),(8.18,-3.0),(8.19,0.1),(8.2,-3.26),(8.21,-1.0),(8.22,0.85),(8.23,-0.35),(8.24,1.4),(8.12,2.45),(8.2,-2.0),
(8.26,0.55),(8.27,-1.6),(8.28,1.8),(8.3,-0.4),(8.31,-2.5),(8.33,0.95),(8.34,-1.0),(8.36,2.3),(8.37,0.15),(8.39,-2.95),(8.4,1.3),(8.41,-0.75),(8.43,-1.9),(8.44,0.6),(8.45,2.0),(8.46,-0.1),(8.47,-2.6),(8.48,1.05),(8.49,-1.3),(8.5,-3.16),
(8.52,0.3),(8.54,-1.45),(8.55,1.55),(8.57,-0.6),(8.59,-2.4),(8.6,0.9),(8.62,2.2),(8.63,2.71),(8.64,-1.0),(8.66,0.05),(8.68,-2.05),(8.7,1.2),(8.71,-0.3),(8.73,-2.8),(8.74,0.55),
(8.76,1.6),(8.78,-1.2),(8.8,0.25),(8.82,-2.25),(8.83,-2.79),(8.85,0.85),(8.87,-0.5),(8.9,1.25),(8.92,-1.6),(8.94,0.0),(8.96,2.09),(8.96,-3.1),
(9.02,0.6),(9.04,-0.9),(9.07,-2.12),(9.09,1.4),(9.12,-0.25),(9.15,0.95),(9.18,-1.5),(9.22,-2.94),(9.24,0.3),(9.27,1.7),(9.29,-3.16),(9.31,-0.6),(9.34,0.75),(9.36,1.57),(9.39,-1.1),(9.43,-2.12),(9.45,0.1),(9.48,1.2),
(9.5,-1.35),(9.54,-3.03),(9.56,0.5),(9.6,-0.4),(9.63,1.0),(9.66,-1.32),(9.7,0.2),(9.74,-0.85),(9.78,0.85),(9.83,-1.71),(9.86,1.92),(9.9,0.3),(9.95,-0.3),(9.99,-1.37),
(10.05,0.55),(10.12,-2.48),(10.16,1.26),(10.19,1.95),(10.25,0.1),(10.27,-1.68),(10.35,-0.5),(10.46,-0.93),(10.46,-4.92),(10.55,0.35),(10.65,-0.2),(10.76,0.78),(10.87,-1.68),(10.95,0.05),
(11.08,0.19),(11.2,-0.15),(11.3,-0.38),(11.41,2.1),(11.44,0.54),(11.55,0.45),(11.77,1.95),(11.9,-0.41),(12.01,-0.21),(12.12,0.47),(12.3,-0.05),(12.59,-0.57),(12.66,-0.1),(12.83,-0.26),(12.83,-0.54),(12.94,0.38),(12.99,0.12),(13.35,0.16),(13.72,0.0),(11.6,-0.02),
]
# low-count stripes along the lower edge of panel B
b_stripe_x = [[2.95, 5.35], [3.0, 5.3], [3.08, 5.2], [3.15, 5.05], [5.45, 7.1], [5.5, 7.02], [5.6, 6.95]]
b_stripe_y = [[-0.25, -1.55], [-0.16, -1.42], [-0.08, -1.27], [0.0, -1.08], [-1.57, -2.62], [-1.47, -2.45], [-1.4, -2.28]]

x_ticks = [2, 4, 6, 8, 10, 12, 14]
a_y_ticks = [-10, -5, 0, 5]
b_y_ticks = [-4, -2, 0, 2, 4]
zero_level = 0

BLUE = "rgba(30,144,230,0.75)"
FONT = "Liberation Sans, Arial, Helvetica, sans-serif"

fig = go.Figure()

def unzip(pts):
    return [p[0] for p in pts], [p[1] for p in pts]

def add_points(pts, size, xa, ya):
    xs, ys = unzip(pts)
    fig.add_trace(go.Scatter(x=xs, y=ys, mode="markers", marker=dict(size=size, color=BLUE),
                             xaxis=xa, yaxis=ya))

# Panel A stripes (drawn under the cloud)
for xs, ys, cl, cr in zip(stripe_x, stripe_y, stripe_col_left, stripe_col_right):
    if len(xs) == 2:
        fig.add_trace(go.Scatter(x=xs, y=ys, mode="lines", line=dict(color=cl, width=2.7),
                                 opacity=0.9, xaxis="x", yaxis="y", hoverinfo="skip"))
    else:
        fig.add_trace(go.Scatter(x=xs[:2], y=ys[:2], mode="lines", line=dict(color=cl, width=2.6),
                                 opacity=0.9, xaxis="x", yaxis="y", hoverinfo="skip"))
        fig.add_trace(go.Scatter(x=xs[1:], y=ys[1:], mode="lines", line=dict(color=cr, width=2.6),
                                 opacity=0.9, xaxis="x", yaxis="y", hoverinfo="skip"))

add_points(a_left, 4.6, "x", "y")
add_points(a_right, 4.6, "x", "y")
add_points(a_core, 5.1, "x", "y")
add_points(a_dense, 5.6, "x", "y")
rx, ry = unzip(a_red)
fig.add_trace(go.Scatter(x=rx, y=ry, mode="markers", marker=dict(size=4.0, color="rgba(220,60,95,0.7)"),
                         xaxis="x", yaxis="y"))
fig.add_trace(go.Scatter(x=loess_x, y=loess_y, mode="lines", line=dict(color="#e010c0", width=2.6),
                         xaxis="x", yaxis="y"))

# Panel B
for xs, ys in zip(b_stripe_x, b_stripe_y):
    fig.add_trace(go.Scatter(x=xs, y=ys, mode="lines", line=dict(color=BLUE, width=1.8),
                             xaxis="x2", yaxis="y2", hoverinfo="skip"))
add_points(b_left, 4.6, "x2", "y2")
add_points(b_right, 4.6, "x2", "y2")
add_points(b_core, 5.1, "x2", "y2")
add_points(b_dense, 5.6, "x2", "y2")

fig.add_shape(type="line", xref="x domain", yref="y", x0=0, x1=1, y0=zero_level, y1=zero_level,
              line=dict(color="black", width=2.2), layer="above")
fig.add_shape(type="line", xref="x2 domain", yref="y2", x0=0, x1=1, y0=zero_level, y1=zero_level,
              line=dict(color="#222222", width=1.5), layer="above")

axis_common = dict(showline=True, linecolor="black", linewidth=1, mirror=True, ticks="outside",
                   ticklen=10, tickwidth=1, tickcolor="black", showgrid=False, zeroline=False,
                   tickfont=dict(family=FONT, size=16, color="black"))
ydom = [0.2047, 0.988]
fig.update_layout(
    width=1020, height=425, margin=dict(l=0, r=0, t=0, b=0),
    paper_bgcolor="white", plot_bgcolor="white", showlegend=False,
    font=dict(family=FONT, color="black"),
    xaxis=dict(domain=[0.0824, 0.4716], range=[1.52, 14.49], tickvals=x_ticks, anchor="y",
               ticklabelstandoff=8, **axis_common),
    yaxis=dict(domain=ydom, range=[-10.63, 5.57], tickvals=a_y_ticks, anchor="x", tickangle=-90,
               ticklabelstandoff=8, **axis_common),
    xaxis2=dict(domain=[0.6069, 0.9958], range=[1.52, 14.48], tickvals=x_ticks, anchor="y2",
                ticklabelstandoff=8, **axis_common),
    yaxis2=dict(domain=ydom, range=[-5.32, 5.02], tickvals=b_y_ticks, anchor="x2", tickangle=-90,
                ticklabelstandoff=8, **axis_common),
)

ann_font = dict(family=FONT, size=17, color="black")
anns = [
    dict(text="log ratio", x=11/1020, y=(425-171.5)/425, textangle=-90),
    dict(text="mean expression", x=282.5/1020, y=(425-412)/425, textangle=0),
    dict(text="log ratio", x=546/1020, y=(425-171.5)/425, textangle=-90),
    dict(text="mean expression", x=817.4/1020, y=(425-412)/425, textangle=0),
    dict(text="<b>A</b>", x=10/1020, y=(425-13)/425, textangle=0),
    dict(text="<b>B</b>", x=552/1020, y=(425-13)/425, textangle=0),
]
for a in anns:
    fig.add_annotation(xref="paper", yref="paper", xanchor="center", yanchor="middle",
                       showarrow=False, font=ann_font, **a)

fig.write_html("out.html", config={"displayModeBar": False},
               post_script="document.body.style.margin='0px';document.body.style.overflow='hidden';")
